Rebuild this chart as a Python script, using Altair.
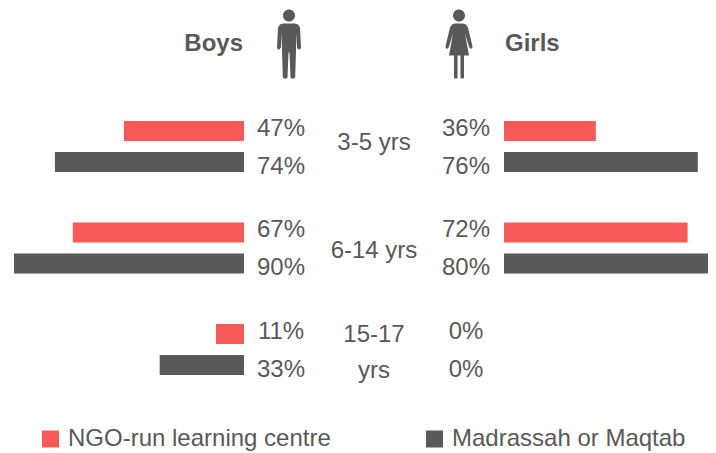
import altair as alt
import pandas as pd

AGES = ["3-5 yrs", "6-14 yrs", "15-17 yrs"]
PROGRAMS = ["NGO-run learning centre", "Madrassah or Maqtab"]
BOYS_NGO = [47, 67, 11]
BOYS_MAD = [74, 90, 33]
GIRLS_NGO = [36, 72, 0]
GIRLS_MAD = [76, 80, 0]
AGE_LINES = ["3-5 yrs", "6-14 yrs", "15-17\nyrs"]

RED = "#F55A58"
DARK = "#58595B"
TEXT = "#595959"
FONT = "Liberation Sans"


def rows(ngo, mad):
    out = []
    for i, a in enumerate(AGES):
        out.append({"age": a, "program": PROGRAMS[0], "value": ngo[i], "label": f"{ngo[i]}%"})
        out.append({"age": a, "program": PROGRAMS[1], "value": mad[i], "label": f"{mad[i]}%"})
    return pd.DataFrame(out)


boys = rows(BOYS_NGO, BOYS_MAD)
girls = rows(GIRLS_NGO, GIRLS_MAD)

y_enc = alt.Y("age:N", axis=None, sort=AGES,
              scale=alt.Scale(type="point", domain=AGES, range=[138.5, 341.5], padding=0))
color_enc = alt.Color("program:N", legend=None,
                      scale=alt.Scale(domain=PROGRAMS, range=[RED, DARK]))


def bars(df, domain, rng):
    return alt.Chart(df).mark_bar(height=20).encode(
        x=alt.X("value:Q", axis=None, stack=None,
                scale=alt.Scale(domain=domain, range=rng, nice=False)),
        y=y_enc,
        yOffset=alt.YOffset("program:N", sort=PROGRAMS,
                            scale=alt.Scale(type="point", domain=PROGRAMS, range=[-15.5, 15.5], padding=0)),
        color=color_enc,
    )


def pct(df, xpos, program, dy):
    d = df[df["program"] == program]
    return alt.Chart(d).mark_text(font=FONT, fontSize=24, color=TEXT, align="center", baseline="middle", dy=dy).encode(
        x=alt.value(xpos),
        y=y_enc,
        text="label:N",
    )


def age_label(i, dy):
    df = pd.DataFrame({"age": [AGES[i]], "line": [AGE_LINES[i]]})
    return alt.Chart(df).mark_text(font=FONT, fontSize=24, color=TEXT, align="center", baseline="middle",
                                   lineBreak="\n", lineHeight=36, dy=dy).encode(
        x=alt.value(366), y=y_enc, text="line:N")


def heading(txt, xpos, align):
    return alt.Chart(pd.DataFrame({"t": [txt]})).mark_text(
        font=FONT, fontSize=24, fontWeight="bold", color=TEXT, align=align, baseline="middle"
    ).encode(x=alt.value(xpos), y=alt.value(36), text="t:N")


def unit_path(polys, head):
    # px offsets from the icon centre, one unit is 34 px
    u = 34.0
    parts = []
    for poly in polys:
        parts.append("M" + " L".join(f"{px/u:.4f},{py/u:.4f}" for px, py in poly) + " Z")
    cy, r = head
    parts.append(f"M{-r/u:.4f},{cy/u:.4f} A{r/u:.4f},{r/u:.4f} 0 1,1 {r/u:.4f},{cy/u:.4f} "
                 f"A{r/u:.4f},{r/u:.4f} 0 1,1 {-r/u:.4f},{cy/u:.4f} Z")
    return " ".join(parts)


MAN = unit_path([[(-6, -21), (6, -21), (9, -20), (11, -17), (12, 3), (11, 5), (9.5, 5), (8, 3), (7, -12),
                  (7, 6), (6.2, 33), (5, 34), (2.5, 34), (1.5, 33), (0.5, 8), (-0.5, 8), (-1.5, 33), (-2.5, 34),
                  (-5, 34), (-6.2, 33), (-7, 6), (-7, -12), (-8, 3), (-9.5, 5), (-11, 5), (-12, 3), (-11, -17),
                  (-9, -20)]], (-29, 6))
WOMAN = unit_path([[(-4, -21), (4, -21), (7, -20), (9, -17), (13.5, 2), (13, 4), (11, 4), (10, 2), (6, -11),
                    (10, 11), (5, 11), (5, 33), (4, 34), (2, 34), (1.5, 33), (1.5, 11), (-1.5, 11), (-1.5, 33),
                    (-2, 34), (-4, 34), (-5, 33), (-5, 11), (-10, 11), (-6, -11), (-10, 2), (-11, 4), (-13, 4),
                    (-13.5, 2), (-9, -17), (-7, -20)]], (-29, 6))


def icon(path, xpos):
    return alt.Chart(pd.DataFrame({"k": [1]})).mark_point(
        shape=path, size=4624, filled=True, fill=DARK, opacity=1
    ).encode(x=alt.value(xpos), y=alt.value(36.5))


def legend_item(i, sq_x, txt_x):
    df = pd.DataFrame({"program": [PROGRAMS[i]]})
    sq = alt.Chart(df).mark_square(size=289, opacity=1).encode(
        x=alt.value(sq_x), y=alt.value(431), color=color_enc)
    tx = alt.Chart(df).mark_text(font=FONT, fontSize=24, color=TEXT, align="left", baseline="middle").encode(
        x=alt.value(txt_x), y=alt.value(431), text="program:N")
    return sq + tx


chart = alt.layer(
    bars(boys, [0, 90], [236, 6]),
    bars(girls, [0, 80], [496, 700]),
    pct(boys, 273, PROGRAMS[0], -18),
    pct(boys, 273, PROGRAMS[1], 20),
    pct(girls, 458, PROGRAMS[0], -18),
    pct(girls, 458, PROGRAMS[1], 20),
    age_label(0, -4),
    age_label(1, 3),
    age_label(2, -15),
    heading("Boys", 235, "right"),
    heading("Girls", 497, "left"),
    icon(MAN, 281),
    icon(WOMAN, 451),
    legend_item(0, 42.5, 60),
    legend_item(1, 426.5, 444),
).resolve_scale(x="independent").properties(
    width=700, height=445, padding={"left": 0, "top": 0, "right": 0, "bottom": 0},
    autosize=alt.AutoSizeParams(type="none")
).configure_view(stroke=None)

chart.save("out.html", embed_options={"renderer": "svg", "actions": False})
